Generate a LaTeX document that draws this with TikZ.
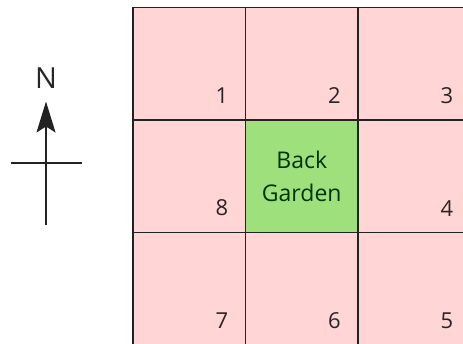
\documentclass[tikz,border=0pt]{standalone}
\usepackage{fontspec}
\setmainfont{Open Sans}
\usetikzlibrary{positioning,arrows.meta}
\definecolor{plotpink}{HTML}{FFD5D5}
\definecolor{gardengreen}{HTML}{9DE07C}
\definecolor{gridline}{HTML}{222222}

\begin{document}
\begin{tikzpicture}[x=1bp,y=1bp,
    plot/.style={draw=gridline,line width=1.6bp,fill=plotpink,minimum size=112.5bp,inner sep=0pt},
    garden/.style={plot,fill=gardengreen,align=center,font=\fontsize{23bp}{33bp}\selectfont,text=black!80!green},
    num/.style={inner sep=0pt,font=\fontsize{22bp}{25bp}\selectfont,text=black!85}]
    \useasboundingbox (0,0) rectangle (463,343);
    \clip (0,0) rectangle (463,343);
    % plots round the garden
    \node [plot] (p1) at (189.25,279.25){};
    \node [plot] (p2) at (301.75,279.25){};
    \node [plot] (p3) at (414.25,279.25){};
    \node [plot] (p8) at (189.25,166.75){};
    \node [garden] (g) at (301.75,166.75){Back\\Garden};
    \node [plot] (p4) at (414.25,166.75){};
    \node [plot] (p7) at (189.25,54.25){};
    \node [plot] (p6) at (301.75,54.25){};
    \node [plot] (p5) at (414.25,54.25){};
    \foreach \i in {1,...,8}
        \node [num,above left=17bp and 18bp of p\i.south east] (n\i){\i};
    % compass
    \coordinate (tail) at (46,118);
    \coordinate (tip) at (46,241.5);
    \coordinate (west) at (10.5,180.3);
    \coordinate (east) at (81.5,180.3);
    \draw[gridline,line width=1.6bp] (west)--(east);
    \draw[gridline,line width=1.6bp,-{Stealth[length=31bp,width=19bp,inset=6bp]}] (tail)--(tip);
    \node [inner sep=0pt,font=\fontsize{29bp}{30bp}\selectfont,text=black!85,above=13bp of tip] (north){N};
\end{tikzpicture}
\end{document}
